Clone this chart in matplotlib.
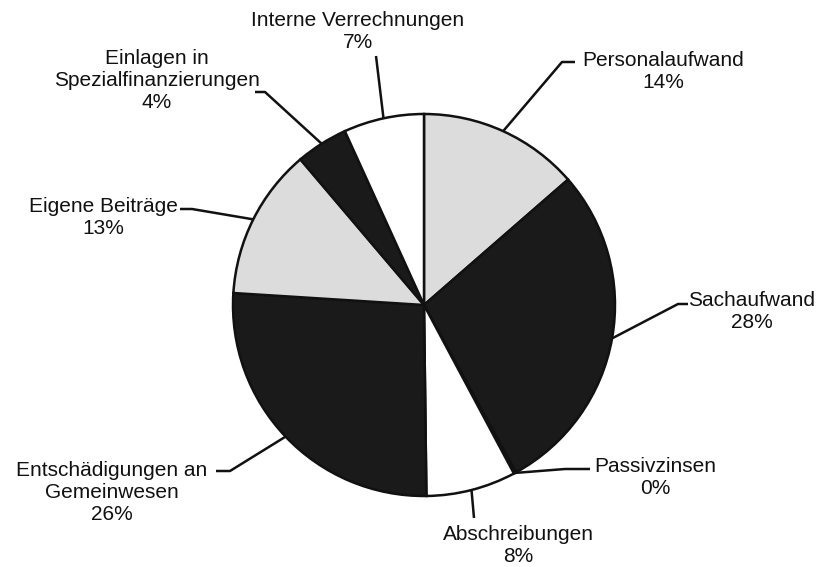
import numpy as np
import matplotlib
matplotlib.use("Agg")
from matplotlib import pyplot as plt

W, H = 823, 567

# data
labels = ["Personalaufwand", "Sachaufwand", "Passivzinsen", "Abschreibungen",
          "Entschädigungen an\nGemeinwesen", "Eigene Beiträge",
          "Einlagen in\nSpezialfinanzierungen", "Interne Verrechnungen"]
values = [13.6, 28.4, 0.2, 7.6, 26.2, 12.8, 4.4, 6.8]
colors = ["#dcdcdc", "#1a1a1a", "#1a1a1a", "#ffffff",
          "#1a1a1a", "#dcdcdc", "#1a1a1a", "#ffffff"]

# layout in pixel coords (x, y from top): text centre, leader elbow, leader end
text_pos = [(663, 72), (752, 312), (655, 477), (518, 545),
            (112, 492), (103, 218), (157, 80), (358, 32)]
elbows = [(562, 62), (678, 304), (565, 469), None,
          (230, 471), (192, 209), (265, 92), None]
ends = [(575, 62), (688, 304), (590, 469), (474, 518),
        (216, 471), (180, 209), (255, 92), (376, 56)]

plt.rcParams['font.family'] = ['Liberation Sans', 'DejaVu Sans']

fig = plt.figure(figsize=(W / 100, H / 100), dpi=100)
ax = fig.add_axes([0, 0, 1, 1])

cx, cy, r = 424, 305, 191
wedges, _ = ax.pie(values, colors=colors, startangle=90, counterclock=False,
                   center=(cx, H - cy), radius=r,
                   wedgeprops=dict(edgecolor="#111111", linewidth=1.8))
ax.set_xlim(0, W)
ax.set_ylim(0, H)
ax.set_aspect('equal')
ax.axis('off')

for w, lab, v, tp, el, en in zip(wedges, labels, values, text_pos, elbows, ends):
    mid = np.deg2rad((w.theta1 + w.theta2) / 2)
    sx = cx + r * np.cos(mid)
    sy = (H - cy) + r * np.sin(mid)
    pts = [(sx, sy)]
    if el is not None:
        pts.append((el[0], H - el[1]))
    pts.append((en[0], H - en[1]))
    xs, ys = zip(*pts)
    ax.plot(xs, ys, color="#111111", lw=1.8, solid_capstyle='butt')
    ax.text(tp[0], H - tp[1], "{}\n{:.0f}%".format(lab, v), ha='center', va='center',
            fontsize=15, color="#111111", linespacing=1.2)

fig.savefig("out.png", dpi=100)
